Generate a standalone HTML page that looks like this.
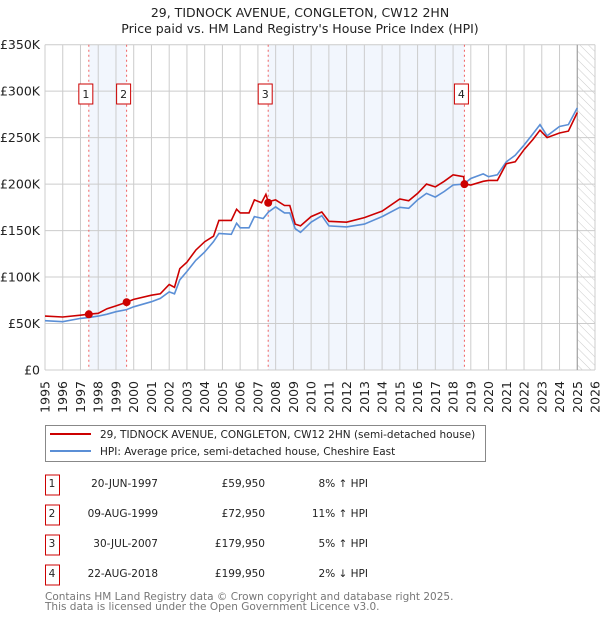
<!DOCTYPE html>
<html><head><meta charset="utf-8"><style>
body{margin:0;background:#fff;font-family:"DejaVu Sans","Liberation Sans",sans-serif;}
</style></head><body>
<svg id="c" width="600" height="620" xmlns="http://www.w3.org/2000/svg" font-family="DejaVu Sans, Liberation Sans, sans-serif">
<defs><pattern id="hatch" width="6" height="6" patternUnits="userSpaceOnUse" patternTransform="rotate(-45)"><line x1="0" y1="0" x2="0" y2="6" stroke="#ccc" stroke-width="1"/></pattern></defs>
<text x="300" y="17" text-anchor="middle" font-size="12.5" fill="#222">29, TIDNOCK AVENUE, CONGLETON, CW12 2HN</text>
<text x="300" y="33" text-anchor="middle" font-size="12.5" fill="#222">Price paid vs. HM Land Registry's House Price Index (HPI)</text>
<g id="plot"></g>
<g>
<rect x="45.5" y="425.5" width="440" height="36" fill="#fff" stroke="#888"/>
<line x1="50" y1="434" x2="91" y2="434" stroke="#cc0000" stroke-width="2"/>
<text x="100" y="438" font-size="10.5" fill="#222">29, TIDNOCK AVENUE, CONGLETON, CW12 2HN (semi-detached house)</text>
<line x1="50" y1="451" x2="91" y2="451" stroke="#5b8fd6" stroke-width="2"/>
<text x="100" y="455" font-size="10.5" fill="#222">HPI: Average price, semi-detached house, Cheshire East</text>
</g>
<g id="table" font-size="10.5" fill="#222"></g>
<text x="45" y="600" font-size="10.5" fill="#777">Contains HM Land Registry data © Crown copyright and database right 2025.</text>
<text x="45" y="610" font-size="10.5" fill="#777">This data is licensed under the Open Government Licence v3.0.</text>
</svg>
<script>
const hpiYears=[1995,1996,1997,1997.5,1998,1998.5,1999,1999.6,2000,2001,2001.5,2002,2002.3,2002.6,2003,2003.5,2004,2004.5,2004.8,2005.5,2005.8,2006,2006.5,2006.8,2007.3,2007.6,2008,2008.5,2008.8,2009.1,2009.4,2010,2010.6,2011,2012,2013,2014,2015,2015.5,2016,2016.5,2017,2017.5,2018,2018.6,2019,2019.7,2020,2020.5,2021,2021.5,2022,2022.5,2022.9,2023.3,2024,2024.5,2025];
const hpiValues=[53,52,55.5,56.6,58,60,62.7,65,68,73.5,77,84,82,97,106,118,127,138,147,146,158,153,153,165,163,170,175.5,169,169,152,148,159,166,155,154,157,165,175,174,183,190,186,192,199,200,206,211,208,210,224,231,242,254,264,252,262,264,282];
const priceYears=[1995,1996,1997,1997.47,1998,1998.5,1999,1999.6,2000,2001,2001.5,2002,2002.3,2002.6,2003,2003.5,2004,2004.5,2004.8,2005.5,2005.8,2006,2006.5,2006.8,2007.2,2007.45,2007.58,2008,2008.5,2008.8,2009.1,2009.4,2010,2010.6,2011,2012,2013,2014,2015,2015.5,2016,2016.5,2017,2017.5,2018,2018.6,2018.64,2019,2019.7,2020,2020.5,2021,2021.5,2022,2022.5,2022.9,2023.3,2024,2024.5,2025];
const priceValues=[58,57,59,60,61,66,69,73,76,80.5,82,92,89,109,116,129,138,144,161,161,173,169,169,183,180,189,181,183,177,177,157,155,165,170,160,159,164,171,184,182,190,200,197,203,210,208,200,199,203,204,204,222,224,237,248,258,250,255,257,277];
const saleLabels=["1","2","3","4"];
const saleYears=[1997.47,1999.6,2007.58,2018.64];
const saleValues=[59.95,72.95,179.95,199.95];
const saleDates=["20-JUN-1997","09-AUG-1999","30-JUL-2007","22-AUG-2018"];
const salePrices=["£59,950","£72,950","£179,950","£199,950"];
const saleHpi=["8% ↑ HPI","11% ↑ HPI","5% ↑ HPI","2% ↓ HPI"];
const yTicks=[0,50,100,150,200,250,300,350];
const yTickLabels=["£0","£50K","£100K","£150K","£200K","£250K","£300K","£350K"];
const xMin=1995,xMax=2026,yMax=350;
const L=45,R=595,T=44.7,B=370;
const X=v=>L+(v-xMin)/(xMax-xMin)*(R-L);
const Y=v=>B-v/yMax*(B-T);
const NS="http://www.w3.org/2000/svg";
const plot=document.getElementById('plot');
function mk(tag,attrs,parent){const e=document.createElementNS(NS,tag);for(const k in attrs)e.setAttribute(k,attrs[k]);(parent||plot).appendChild(e);return e;}
for(const [a,b] of [[0,1],[2,3]]){
 const r=mk('rect',{x:X(saleYears[a]),y:T,width:X(saleYears[b])-X(saleYears[a]),height:B-T,fill:'#f2f6fd'});
 
 
}
const h=mk('rect',{x:X(2025),y:T,width:R-X(2025),height:B-T,fill:'url(#hatch)'});


for(let yr=xMin;yr<=xMax;yr++){
 const g=mk('line',{x1:X(yr),x2:X(yr),y1:T,y2:B,stroke:'#ccc','stroke-width':1});
 
 
 const t=mk('text',{x:0,y:0,transform:`translate(${X(yr)+4.5},381) rotate(-90)`,'text-anchor':'end','font-size':12.5,fill:'#222'});
 t.textContent=yr;
 
 
}
yTicks.forEach((v,i)=>{
 const g=mk('line',{x1:L,x2:R,y1:Y(v),y2:Y(v),stroke:'#ccc','stroke-width':1});
 
 
 const t=mk('text',{x:40,y:Y(v)+4.5,'text-anchor':'end','font-size':12.5,fill:'#222'});
 t.textContent=yTickLabels[i];
 
 
});
const vl=mk('line',{x1:X(2025),x2:X(2025),y1:T,y2:B,stroke:'#999','stroke-width':1});


saleYears.forEach((s,i)=>{
 const l=mk('line',{x1:X(s),x2:X(s),y1:T,y2:B,stroke:'#f06060','stroke-width':1,'stroke-dasharray':'2,3'});
 
 
});
const pts=(xs,ys)=>xs.map((x,i)=>X(x).toFixed(1)+','+Y(ys[i]).toFixed(1)).join(' ');
const hl=mk('polyline',{points:pts(hpiYears,hpiValues),fill:'none',stroke:'#5b8fd6','stroke-width':1.6});


const pl=mk('polyline',{points:pts(priceYears,priceValues),fill:'none',stroke:'#cc0000','stroke-width':1.6});


saleYears.forEach((s,i)=>{
 const c=mk('circle',{cx:X(s),cy:Y(saleValues[i]),r:4,fill:'#cc0000'});
 
 
 const b=mk('rect',{x:X(s)-10,y:84,width:14,height:20,fill:'#fff',stroke:'#cc0000'});
 
 
 const t=mk('text',{x:X(s)-3,y:98,'text-anchor':'middle','font-size':11,fill:'#222'});
 t.textContent=saleLabels[i];
 
 
});
const tb=document.getElementById('table');
saleLabels.forEach((lab,i)=>{
 const y=483+i*30;
 const b=mk('rect',{x:45.5,y:y-8,width:14,height:20,fill:'#fff',stroke:'#cc0000'},tb);
 
 
 const cells=[[52,'middle',lab,'table-index'],[158,'end',saleDates[i],'table-date'],[265,'end',salePrices[i],'table-price'],[368,'end',saleHpi[i],'table-hpi-diff']];
 cells.forEach(([x,a,txt,n])=>{
  const t=mk('text',{x:x,y:y+4,'text-anchor':a},tb);
  t.textContent=txt;
  
  
 });
});
</script>
</body></html>
